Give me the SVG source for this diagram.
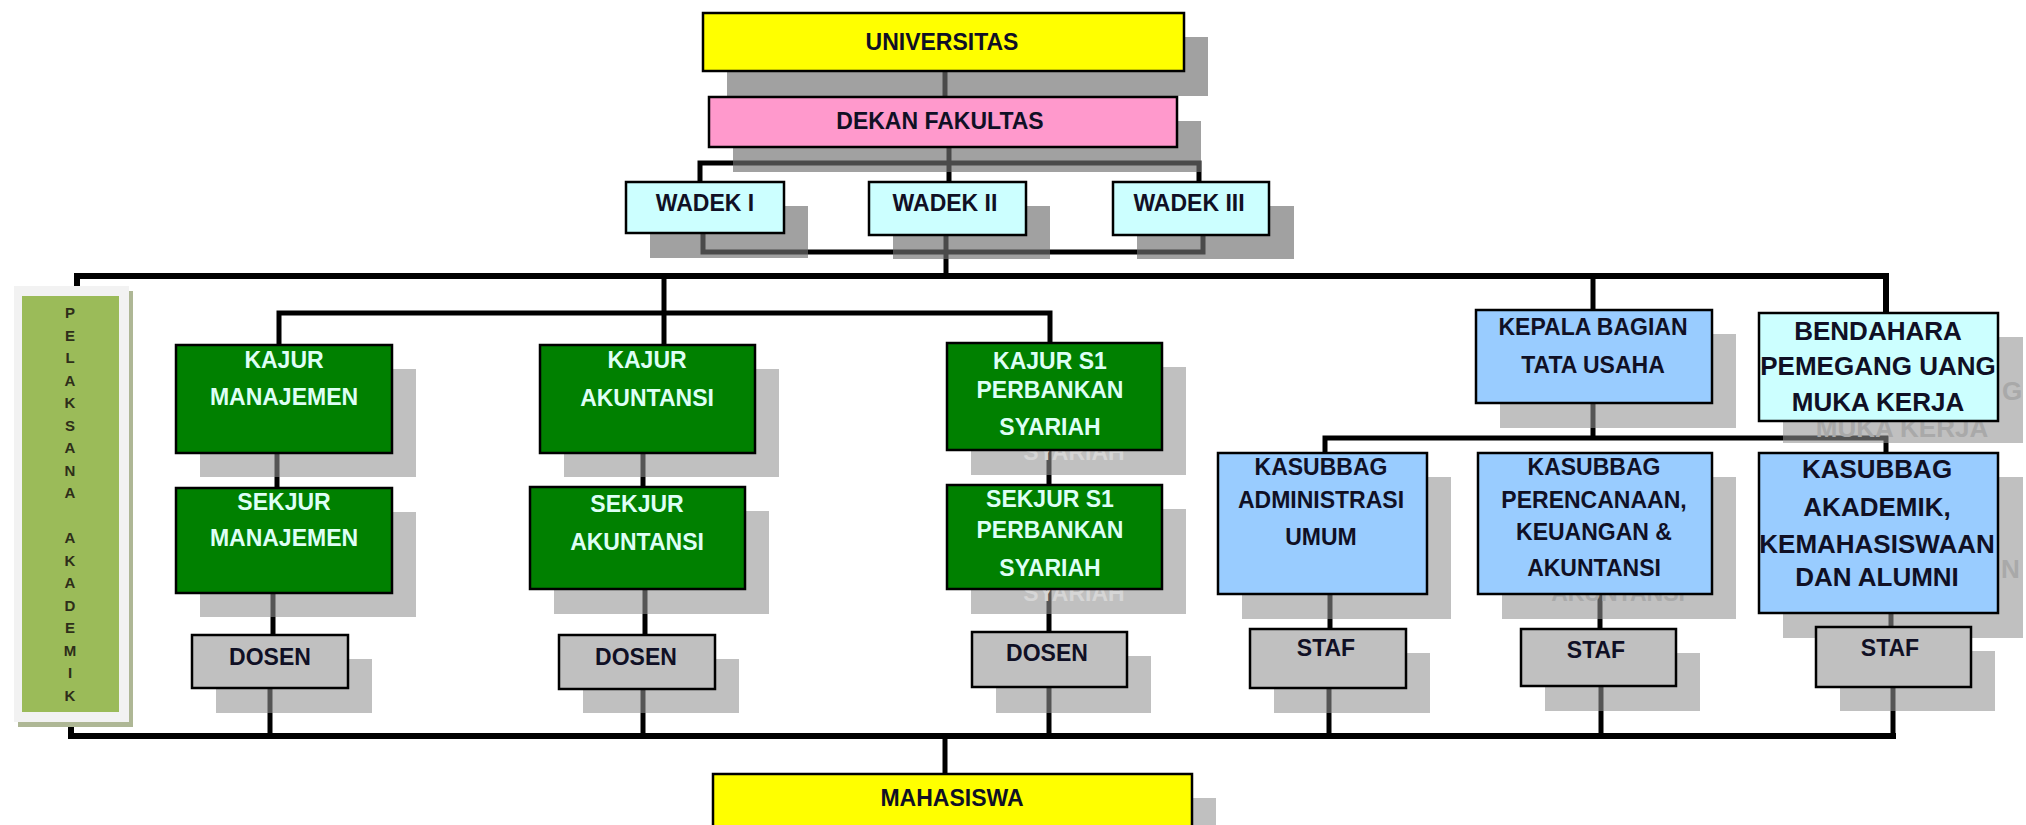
<svg xmlns="http://www.w3.org/2000/svg" width="2026" height="825" viewBox="0 0 2026 825">
<style>
.box{stroke:#000;stroke-width:2.5}
.sh1{fill:#707070;fill-opacity:0.66}
.sh2{fill:#929292;fill-opacity:0.58}
.t{font-family:"Liberation Sans",Arial,sans-serif;font-weight:bold;font-size:23px;text-anchor:middle;fill:#101025}
.big{font-size:26px}
.st{text-anchor:start}
.lt{fill:#ddfff5}
.gh{fill:#a9a9a9}
.ghl{fill:#d6d6d6}
.ln{stroke:#000;stroke-width:5;fill:none}
.bus{stroke:#000;stroke-width:6;fill:none}
.pl{font-family:"Liberation Sans",Arial,sans-serif;font-weight:bold;font-size:15px;text-anchor:middle;fill:#2e2e1a}
.yel{fill:#ffff00}.pink{fill:#ff99cc}.cyan{fill:#ccffff}.green{fill:#008000}.gray{fill:#c0c0c0}.blue{fill:#99ccff}
</style>
<rect width="2026" height="825" fill="#fff"/>

<g id="connectors">
<path class="ln" d="M945,71 V97"/>
<path class="ln" d="M949,147 V182"/>
<path class="ln" d="M700,182 V163 H1199 V182"/>
<path class="ln" d="M703,233 V252 H1203 V235"/>
<path class="ln" d="M946,235 V276"/>
<path class="bus" d="M77,286 V276 H1886 V313"/>
<path class="ln" d="M664,276 V345"/>
<path class="ln" d="M1593,276 V310"/>
<path class="ln" d="M279,345 V313 H1050 V343"/>
<path class="ln" d="M277,453 V488"/>
<path class="ln" d="M273,593 V635"/>
<path class="ln" d="M270,688 V736"/>
<path class="ln" d="M643,453 V487"/>
<path class="ln" d="M645,589 V635"/>
<path class="ln" d="M643,689 V736"/>
<path class="ln" d="M1049,450 V485"/>
<path class="ln" d="M1049,589 V632"/>
<path class="ln" d="M1049,687 V736"/>
<path class="ln" d="M1593,403 V438"/>
<path class="ln" d="M1325,453 V438 H1886 V453"/>
<path class="ln" d="M1330,594 V629"/>
<path class="ln" d="M1600,594 V629"/>
<path class="ln" d="M1891,613 V627"/>
<path class="ln" d="M1329,688 V736"/>
<path class="ln" d="M1601,686 V736"/>
<path class="ln" d="M1893,687 V736"/>
<path class="bus" d="M71,722 V736 H1896"/>
<path class="ln" d="M945,736 V774"/>
</g>

<g id="pelaksana-akademik">
<rect x="18" y="291" width="115" height="436" fill="#aeb795"/>
<rect x="14" y="286" width="115" height="436" fill="#f2f2f2"/>
<rect x="22" y="296" width="97" height="416" fill="#9bbb59"/>
<text class="pl" x="70" y="318">P</text>
<text class="pl" x="70" y="340.5">E</text>
<text class="pl" x="70" y="363">L</text>
<text class="pl" x="70" y="385.5">A</text>
<text class="pl" x="70" y="408">K</text>
<text class="pl" x="70" y="430.5">S</text>
<text class="pl" x="70" y="453">A</text>
<text class="pl" x="70" y="475.5">N</text>
<text class="pl" x="70" y="498">A</text>
<text class="pl" x="70" y="543">A</text>
<text class="pl" x="70" y="565.5">K</text>
<text class="pl" x="70" y="588">A</text>
<text class="pl" x="70" y="610.5">D</text>
<text class="pl" x="70" y="633">E</text>
<text class="pl" x="70" y="655.5">M</text>
<text class="pl" x="70" y="678">I</text>
<text class="pl" x="70" y="700.5">K</text>
</g>

<g id="universitas">
<rect class="sh1" x="727" y="37" width="481" height="59"/>
<rect class="box yel" x="703" y="13" width="481" height="58"/>
<text class="t" x="942" y="50">UNIVERSITAS</text>
</g>
<g id="dekan">
<rect class="sh1" x="733" y="121" width="468" height="51"/>
<rect class="box pink" x="709" y="97" width="468" height="50"/>
<text class="t" x="940" y="129">DEKAN FAKULTAS</text>
</g>
<g id="wadek1">
<rect class="sh1" x="650" y="206" width="158" height="52"/>
<rect class="box cyan" x="626" y="182" width="158" height="51"/>
<text class="t" x="705" y="211">WADEK I</text>
</g>
<g id="wadek2">
<rect class="sh1" x="893" y="206" width="157" height="53"/>
<rect class="box cyan" x="869" y="182" width="157" height="53"/>
<text class="t" x="945" y="211">WADEK II</text>
</g>
<g id="wadek3">
<rect class="sh1" x="1137" y="206" width="157" height="53"/>
<rect class="box cyan" x="1113" y="182" width="156" height="53"/>
<text class="t" x="1189" y="211">WADEK III</text>
</g>

<g id="kajur-manajemen">
<rect class="sh2" x="200" y="369" width="216" height="108"/>
<rect class="box green" x="176" y="345" width="216" height="108"/>
<text class="t lt" x="284" y="368">KAJUR</text>
<text class="t lt" x="284" y="405">MANAJEMEN</text>
</g>
<g id="sekjur-manajemen">
<rect class="sh2" x="200" y="512" width="216" height="105"/>
<rect class="box green" x="176" y="488" width="216" height="105"/>
<text class="t lt" x="284" y="510">SEKJUR</text>
<text class="t lt" x="284" y="546">MANAJEMEN</text>
</g>
<g id="dosen-manajemen">
<rect class="sh2" x="216" y="659" width="156" height="54"/>
<rect class="box gray" x="192" y="635" width="156" height="53"/>
<text class="t" x="270" y="665">DOSEN</text>
</g>

<g id="kajur-akuntansi">
<rect class="sh2" x="564" y="369" width="215" height="108"/>
<rect class="box green" x="540" y="345" width="215" height="108"/>
<text class="t lt" x="647" y="368">KAJUR</text>
<text class="t lt" x="647" y="406">AKUNTANSI</text>
</g>
<g id="sekjur-akuntansi">
<rect class="sh2" x="554" y="511" width="215" height="103"/>
<rect class="box green" x="530" y="487" width="215" height="102"/>
<text class="t lt" x="637" y="512">SEKJUR</text>
<text class="t lt" x="637" y="550">AKUNTANSI</text>
</g>
<g id="dosen-akuntansi">
<rect class="sh2" x="583" y="659" width="156" height="54"/>
<rect class="box gray" x="559" y="635" width="156" height="54"/>
<text class="t" x="636" y="665">DOSEN</text>
</g>

<g id="kajur-s1-perbankan-syariah">
<rect class="sh2" x="971" y="367" width="215" height="108"/>
<text class="t ghl" x="1074" y="460">SYARIAH</text>
<rect class="box green" x="947" y="343" width="215" height="107"/>
<text class="t lt" x="1050" y="369">KAJUR S1</text>
<text class="t lt" x="1050" y="398">PERBANKAN</text>
<text class="t lt" x="1050" y="435">SYARIAH</text>
</g>
<g id="sekjur-s1-perbankan-syariah">
<rect class="sh2" x="971" y="509" width="215" height="105"/>
<text class="t ghl" x="1074" y="601">SYARIAH</text>
<rect class="box green" x="947" y="485" width="215" height="104"/>
<text class="t lt" x="1050" y="507">SEKJUR S1</text>
<text class="t lt" x="1050" y="538">PERBANKAN</text>
<text class="t lt" x="1050" y="576">SYARIAH</text>
</g>
<g id="dosen-perbankan">
<rect class="sh2" x="996" y="656" width="155" height="57"/>
<rect class="box gray" x="972" y="632" width="155" height="55"/>
<text class="t" x="1047" y="661">DOSEN</text>
</g>

<g id="kepala-bagian-tata-usaha">
<rect class="sh2" x="1500" y="334" width="236" height="94"/>
<rect class="box blue" x="1476" y="310" width="236" height="93"/>
<text class="t" x="1593" y="335">KEPALA BAGIAN</text>
<text class="t" x="1593" y="373">TATA USAHA</text>
</g>
<g id="bendahara">
<rect class="sh2" x="1783" y="337" width="240" height="106"/>
<text class="t big gh st" x="2002" y="400">G</text>
<text class="t big gh" x="1902" y="437">MUKA KERJA</text>
<rect class="box cyan" x="1759" y="313" width="239" height="108"/>
<text class="t big" x="1878" y="340">BENDAHARA</text>
<text class="t big" x="1878" y="375">PEMEGANG UANG</text>
<text class="t big" x="1878" y="411">MUKA KERJA</text>
</g>

<g id="kasubbag-administrasi-umum">
<rect class="sh2" x="1242" y="477" width="209" height="142"/>
<rect class="box blue" x="1218" y="453" width="209" height="141"/>
<text class="t" x="1321" y="475">KASUBBAG</text>
<text class="t" x="1321" y="508">ADMINISTRASI</text>
<text class="t" x="1321" y="545">UMUM</text>
</g>
<g id="kasubbag-perencanaan">
<rect class="sh2" x="1502" y="477" width="234" height="142"/>
<text class="t gh" x="1618" y="601">AKUNTANSI</text>
<rect class="box blue" x="1478" y="453" width="234" height="141"/>
<text class="t" x="1594" y="475">KASUBBAG</text>
<text class="t" x="1594" y="508">PERENCANAAN,</text>
<text class="t" x="1594" y="540">KEUANGAN &amp;</text>
<text class="t" x="1594" y="576">AKUNTANSI</text>
</g>
<g id="kasubbag-akademik">
<rect class="sh2" x="1783" y="477" width="240" height="161"/>
<text class="t big gh st" x="2001" y="578">N</text>
<rect class="box blue" x="1759" y="453" width="239" height="160"/>
<text class="t big" x="1877" y="478">KASUBBAG</text>
<text class="t big" x="1877" y="516">AKADEMIK,</text>
<text class="t big" x="1877" y="553">KEMAHASISWAAN</text>
<text class="t big" x="1877" y="586">DAN ALUMNI</text>
</g>

<g id="staf-1">
<rect class="sh2" x="1274" y="653" width="156" height="60"/>
<rect class="box gray" x="1250" y="629" width="156" height="59"/>
<text class="t" x="1326" y="656">STAF</text>
</g>
<g id="staf-2">
<rect class="sh2" x="1545" y="653" width="155" height="58"/>
<rect class="box gray" x="1521" y="629" width="155" height="57"/>
<text class="t" x="1596" y="658">STAF</text>
</g>
<g id="staf-3">
<rect class="sh2" x="1840" y="651" width="155" height="60"/>
<rect class="box gray" x="1816" y="627" width="155" height="60"/>
<text class="t" x="1890" y="656">STAF</text>
</g>

<g id="mahasiswa">
<rect class="sh2" x="737" y="798" width="479" height="60"/>
<rect class="box yel" x="713" y="774" width="479" height="70"/>
<text class="t" x="952" y="806">MAHASISWA</text>
</g>
</svg>
